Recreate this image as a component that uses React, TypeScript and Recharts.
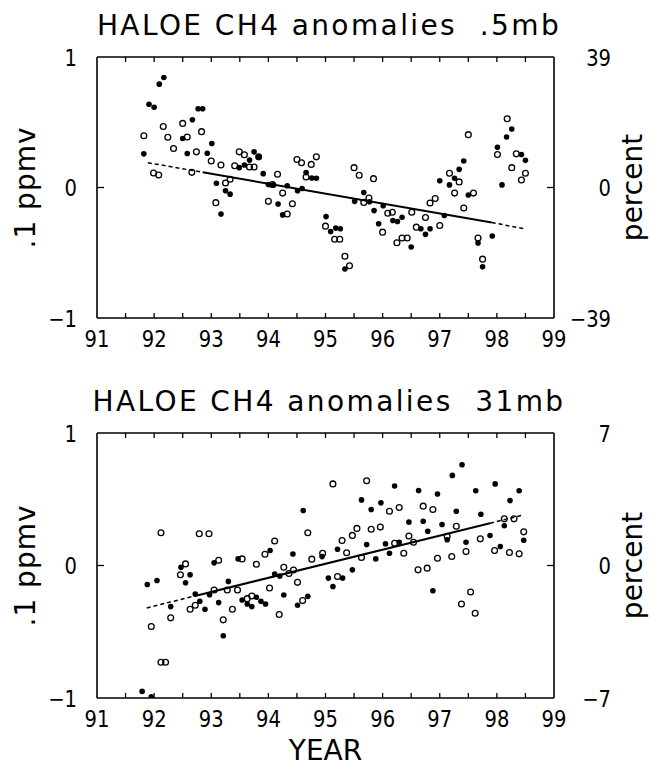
import React from 'react';
import { ScatterChart, Scatter, XAxis, YAxis } from 'recharts';

const FONT = '"DejaVu Sans", sans-serif';

const yearTicks = [91, 91.5, 92, 92.5, 93, 93.5, 94, 94.5, 95, 95.5, 96, 96.5, 97, 97.5, 98, 98.5, 99];
const ppmvTicks = [-1, 0, 1];
const topPercentTicks = [-39, 0, 39];
const bottomPercentTicks = [-7, 0, 7];

// .5mb panel
const topFilledYear = [
  91.82, 91.91, 92.0, 92.09, 92.17, 92.5, 92.58, 92.67, 92.77, 92.85, 92.93, 93.01, 93.09, 93.17, 93.25, 93.33,
  93.49, 93.58, 93.67, 93.75, 93.83, 93.91, 94.0, 94.09, 94.17, 94.25, 94.33, 94.51, 94.59, 94.66, 94.76, 94.84,
  95.01, 95.09, 95.18, 95.26, 95.34, 95.51, 95.67, 95.77, 95.85, 95.93, 96.01, 96.18, 96.26, 96.34, 96.5, 96.67,
  96.75, 96.83, 97.0, 97.08, 97.17, 97.26, 97.34, 97.42, 97.5, 97.67, 97.75, 97.92, 98.01, 98.09, 98.17, 98.26,
  98.43, 98.5,
];
const topFilledVal = [
  0.258, 0.638, 0.615, 0.792, 0.843, 0.375, 0.261, 0.519, 0.603, 0.603, 0.263, 0.337, 0.033, -0.203, -0.025, -0.051,
  0.152, 0.172, 0.21, 0.273, 0.233, 0.106, 0.023, 0.02, -0.127, -0.21, 0.013, -0.025, -0.008, 0.114, 0.073, 0.071,
  -0.223, -0.337, -0.311, -0.316, -0.625, -0.106, -0.038, -0.109, -0.177, -0.278, -0.139, -0.253, -0.261, -0.228, -0.456, -0.316,
  -0.359, -0.316, 0.051, -0.215, 0.02, 0.071, 0.139, 0.203, -0.058, -0.425, -0.608, -0.372, 0.309, 0.02, 0.387, 0.448,
  0.253, 0.208,
];
const topOpenYear = [
  91.82, 91.99, 92.08, 92.16, 92.24, 92.34, 92.5, 92.58, 92.66, 92.74, 92.83, 93.0, 93.08, 93.17, 93.25, 93.33,
  93.41, 93.49, 93.58, 93.67, 93.75, 93.83, 94.0, 94.07, 94.16, 94.25, 94.33, 94.42, 94.5, 94.58, 94.66, 94.75,
  94.84, 95.0, 95.16, 95.25, 95.34, 95.42, 95.5, 95.59, 95.67, 95.76, 95.84, 96.0, 96.09, 96.17, 96.25, 96.34,
  96.43, 96.51, 96.59, 96.75, 96.83, 96.92, 97.0, 97.17, 97.26, 97.34, 97.42, 97.5, 97.59, 97.67, 97.75, 98.01,
  98.18, 98.26, 98.34, 98.43, 98.5,
];
const topOpenVal = [
  0.397, 0.111, 0.096, 0.468, 0.385, 0.299, 0.491, 0.387, 0.116, 0.273, 0.428, 0.203, -0.116, 0.172, 0.035, 0.063,
  0.167, 0.273, 0.251, 0.157, 0.157, 0.235, -0.106, 0.023, 0.101, -0.043, -0.203, -0.124, 0.215, 0.19, 0.081, 0.177,
  0.235, -0.296, -0.397, -0.397, -0.527, -0.6, 0.152, 0.094, -0.114, -0.081, 0.068, -0.342, -0.197, -0.19, -0.423, -0.387,
  -0.387, -0.19, -0.304, -0.23, -0.119, -0.084, -0.291, 0.109, -0.043, 0.043, -0.157, 0.405, -0.043, -0.387, -0.549, 0.253,
  0.527, 0.152, 0.258, 0.058, 0.109,
];
// trend: dashed, solid, dashed between consecutive points
const topTrendYear = [91.89, 92.85, 97.91, 98.46];
const topTrendVal = [0.19, 0.117, -0.268, -0.315];

// 31mb panel
const botFilledYear = [
  91.79, 91.95, 91.88, 92.05, 92.29, 92.47, 92.55, 92.63, 92.72, 92.8, 92.89, 92.97, 93.05, 93.13, 93.21, 93.3,
  93.47, 93.54, 93.63, 93.71, 93.79, 93.87, 93.95, 94.03, 94.11, 94.2, 94.27, 94.43, 94.51, 94.61, 94.69, 94.94,
  95.05, 95.13, 95.21, 95.3, 95.47, 95.63, 95.72, 95.8, 95.88, 95.97, 96.05, 96.12, 96.21, 96.29, 96.46, 96.63,
  96.71, 96.79, 96.88, 96.96, 97.04, 97.13, 97.22, 97.29, 97.39, 97.46, 97.63, 97.72, 97.88, 97.97, 98.06, 98.13,
  98.23, 98.39, 98.47,
];
const botFilledVal = [
  -0.95, -0.99, -0.143, -0.113, -0.31, -0.013, -0.13, -0.07, -0.216, -0.27, -0.33, -0.22, 0.02, -0.28, -0.53, -0.12,
  0.05, -0.26, -0.29, -0.31, -0.24, -0.27, -0.29, 0.113, -0.064, -0.08, -0.223, 0.087, -0.3, 0.415, -0.233, 0.067,
  -0.095, -0.158, 0.123, -0.095, -0.033, 0.495, 0.158, 0.423, 0.05, 0.473, 0.163, 0.093, 0.6, 0.176, 0.327, 0.566,
  0.334, 0.259, -0.19, 0.54, 0.309, 0.194, 0.68, 0.41, 0.76, 0.176, 0.564, 0.387, 0.226, 0.616, 0.143, 0.3,
  0.49, 0.564, 0.191,
];
const botOpenYear = [
  91.95, 92.12, 92.12, 92.2, 92.29, 92.46, 92.55, 92.63, 92.72, 92.79, 92.96, 93.05, 93.13, 93.21, 93.28, 93.37,
  93.46, 93.54, 93.63, 93.71, 93.79, 93.94, 94.02, 94.11, 94.19, 94.27, 94.36, 94.44, 94.51, 94.6, 94.69, 94.76,
  94.95, 95.13, 95.21, 95.29, 95.37, 95.47, 95.55, 95.63, 95.72, 95.8, 95.96, 96.12, 96.21, 96.29, 96.37, 96.46,
  96.54, 96.62, 96.71, 96.78, 96.88, 96.96, 97.13, 97.21, 97.29, 97.38, 97.46, 97.54, 97.62, 97.71, 97.96, 98.13,
  98.22, 98.3, 98.39, 98.47,
];
const botOpenVal = [
  -0.46, 0.247, -0.73, -0.73, -0.395, -0.07, 0.012, -0.33, -0.3, 0.24, 0.24, -0.185, 0.04, -0.41, -0.185, -0.33,
  -0.185, 0.05, -0.25, -0.23, 0.01, 0.085, -0.17, 0.185, -0.37, -0.013, -0.06, -0.034, -0.127, -0.265, 0.247, 0.048,
  0.093, 0.616, -0.083, 0.189, 0.096, 0.227, 0.28, 0.06, 0.64, 0.274, 0.29, 0.41, 0.168, 0.438, 0.093, 0.223,
  0.176, -0.033, 0.448, -0.02, 0.423, 0.055, 0.22, 0.068, 0.296, -0.29, 0.105, -0.2, -0.36, 0.201, 0.113, 0.352,
  0.098, 0.352, 0.088, 0.254,
];
const botTrendYear = [91.87, 92.75, 97.88, 98.43];
const botTrendVal = [-0.32, -0.226, 0.319, 0.378];

type Pt = { year: number; v: number };
const zip = (xs: number[], ys: number[]): Pt[] => xs.map((x, i) => ({ year: x, v: ys[i] }));

const Dot = (p: any) => <circle cx={p.cx} cy={p.cy} r={2.8} fill="#000" />;
const Ring = (p: any) => <circle cx={p.cx} cy={p.cy} r={2.9} fill="none" stroke="#000" strokeWidth={1.3} />;
const NoMark = () => <g />;

const numText = (x: number, y: number, anchor: string, label: string) => (
  <text transform={`translate(${x},${y}) scale(0.85,1)`} textAnchor={anchor} fontSize={23} fontFamily={FONT} fill="#000">
    {label}
  </text>
);
const fmt = (v: number) => (v < 0 ? '\u2212' + Math.abs(v) : String(v));

const BottomTick = (p: any) => {
  const v = p.payload.value;
  const major = Number.isInteger(v);
  const edge = v === 91 || v === 99;
  return (
    <g>
      {!edge && <line x1={p.x} x2={p.x} y1={p.y} y2={p.y - 5} stroke="#000" strokeWidth={1.3} />}
      {major && numText(p.x, p.y + 29, 'middle', String(v))}
    </g>
  );
};
const TopTick = (p: any) => {
  const v = p.payload.value;
  if (v === 91 || v === 99) return <g />;
  return <line x1={p.x} x2={p.x} y1={p.y} y2={p.y + 5} stroke="#000" strokeWidth={1.3} />;
};
const LeftTick = (p: any) => {
  const v = p.payload.value;
  return (
    <g>
      {v === 0 && <line x1={p.x} x2={p.x + 7} y1={p.y} y2={p.y} stroke="#000" strokeWidth={1.3} />}
      {numText(p.x - 20, p.y + 8.5, 'end', fmt(v))}
    </g>
  );
};
const RightTick = (p: any) => {
  const v = p.payload.value;
  return (
    <g>
      {v === 0 && <line x1={p.x} x2={p.x - 7} y1={p.y} y2={p.y} stroke="#000" strokeWidth={1.3} />}
      {numText(p.x + 57, p.y + 8.5, 'end', fmt(v))}
    </g>
  );
};

const rotLabel = (text: string, dx: number, spacing: number) => (p: any) => {
  const vb = p.viewBox;
  const cx = vb.x + dx;
  const cy = vb.y + vb.height / 2;
  return (
    <text x={cx} y={cy} transform={`rotate(-90, ${cx}, ${cy})`} textAnchor="middle" fontSize={28} fontFamily={FONT} letterSpacing={spacing} fill="#000">
      {text}
    </text>
  );
};

const yearLabel = (p: any) => {
  const vb = p.viewBox;
  return (
    <text x={vb.x + vb.width / 2} y={vb.y + 62} textAnchor="middle" fontSize={28} fontFamily={FONT} fill="#000">
      YEAR
    </text>
  );
};

const AXIS = { stroke: '#000', strokeWidth: 1.6 };

interface PanelProps {
  title: string;
  filled: Pt[];
  open: Pt[];
  trend: Pt[];
  percentTicks: number[];
  plotTop: number;
  plotBottom: number;
  showYear?: boolean;
}

function Panel({ title, filled, open, trend, percentTicks, plotTop, plotBottom, showYear }: PanelProps) {
  const H = 383;
  const pMax = percentTicks[percentTicks.length - 1];
  return (
    <div style={{ position: 'relative', width: 650, height: H }}>
      <div
        style={{
          position: 'absolute', left: 0, top: plotTop - 21 - 24, width: 650, paddingLeft: 8, boxSizing: 'border-box',
          textAlign: 'center', fontFamily: FONT, fontSize: 28, lineHeight: '28px', letterSpacing: 2.4, whiteSpace: 'pre', color: '#000',
        }}
      >
        {title}
      </div>
      <ScatterChart width={650} height={H} margin={{ top: plotTop - 10, right: 36, bottom: H - plotBottom - 40, left: 37 }}>
        <XAxis
          xAxisId="b" type="number" dataKey="year" domain={[91, 99]} allowDataOverflow ticks={yearTicks} interval={0}
          height={40} axisLine={AXIS} tickLine={false} tickSize={0} tickMargin={0} tick={BottomTick}
          label={showYear ? { content: yearLabel } : undefined}
        />
        <XAxis
          xAxisId="t" orientation="top" type="number" dataKey="year" domain={[91, 99]} allowDataOverflow ticks={yearTicks} interval={0}
          height={10} axisLine={AXIS} tickLine={false} tickSize={0} tickMargin={0} tick={TopTick}
        />
        <YAxis
          yAxisId="l" type="number" dataKey="v" domain={[-1, 1]} allowDataOverflow ticks={ppmvTicks} interval={0}
          width={60} axisLine={AXIS} tickLine={false} tickSize={0} tickMargin={0} tick={LeftTick}
          label={{ content: rotLabel('.1 ppmv', -2, 1) }}
        />
        <YAxis
          yAxisId="r" orientation="right" type="number" dataKey="v" domain={[-pMax, pMax]} allowDataOverflow ticks={percentTicks} interval={0}
          width={60} axisLine={AXIS} tickLine={false} tickSize={0} tickMargin={0} tick={RightTick}
          label={{ content: rotLabel('percent', 88, 0) }}
        />
        <Scatter xAxisId="b" yAxisId="l" data={trend.slice(0, 2)} shape={NoMark} line={{ stroke: '#000', strokeWidth: 1.5, strokeDasharray: '4 3' }} lineType="joint" isAnimationActive={false} />
        <Scatter xAxisId="b" yAxisId="l" data={trend.slice(1, 3)} shape={NoMark} line={{ stroke: '#000', strokeWidth: 2 }} lineType="joint" isAnimationActive={false} />
        <Scatter xAxisId="b" yAxisId="l" data={trend.slice(2, 4)} shape={NoMark} line={{ stroke: '#000', strokeWidth: 1.5, strokeDasharray: '4 3' }} lineType="joint" isAnimationActive={false} />
        <Scatter xAxisId="b" yAxisId="l" data={open} shape={Ring} isAnimationActive={false} />
        <Scatter xAxisId="b" yAxisId="l" data={filled} shape={Dot} isAnimationActive={false} />
      </ScatterChart>
    </div>
  );
}

export default function App() {
  return (
    <div style={{ position: 'absolute', left: 0, top: 0, width: 650, height: 766, background: '#fff' }}>
      <Panel
        title="HALOE CH4 anomalies  .5mb"
        filled={zip(topFilledYear, topFilledVal)}
        open={zip(topOpenYear, topOpenVal)}
        trend={zip(topTrendYear, topTrendVal)}
        percentTicks={topPercentTicks}
        plotTop={57}
        plotBottom={318}
      />
      <Panel
        title="HALOE CH4 anomalies  31mb"
        filled={zip(botFilledYear, botFilledVal)}
        open={zip(botOpenYear, botOpenVal)}
        trend={zip(botTrendYear, botTrendVal)}
        percentTicks={bottomPercentTicks}
        plotTop={50}
        plotBottom={315}
        showYear
      />
    </div>
  );
}
